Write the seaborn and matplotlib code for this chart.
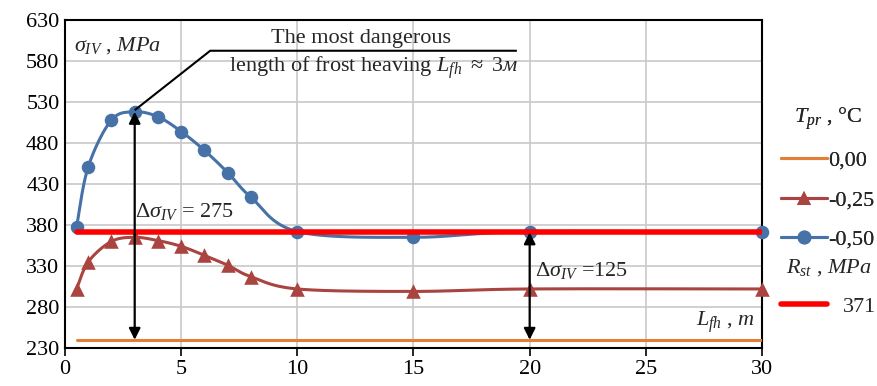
import numpy as np
import pandas as pd
import matplotlib
matplotlib.use("Agg")
import matplotlib.pyplot as plt
import seaborn as sns
from matplotlib.lines import Line2D

# Length of frost heaving section, m
length_m = [0.5, 1, 2, 3, 4, 5, 6, 7, 8, 10, 15, 20, 30]
# Equivalent stress sigma_IV, MPa, for soil temperature T_pr
stress_m025 = [302, 335, 360, 365, 361, 354, 343, 331, 317, 302, 299, 302, 302]
stress_m050 = [378, 451, 508, 518, 512, 494, 471, 444, 414, 372, 365, 372, 371]
# T_pr = 0,00 and the strength limit R_st are constant over the length
flat_len = [0.5, 30]
stress_000 = [240, 240]
r_st = [371, 371]

x_ticks = [0, 5, 10, 15, 20, 25, 30]
y_ticks = [230, 280, 330, 380, 430, 480, 530, 580, 630]

C_ORANGE = "#E07F35"
C_BROWN = "#A94441"
C_BLUE = "#4672A8"
C_RED = "#FF0000"

sns.set_theme(style="whitegrid")
plt.rcParams["font.family"] = ["Liberation Serif", "DejaVu Serif"]
plt.rcParams["mathtext.fontset"] = "custom"
plt.rcParams["mathtext.rm"] = "Liberation Serif"
plt.rcParams["mathtext.it"] = "Liberation Serif:italic"
plt.rcParams["mathtext.bf"] = "Liberation Serif:bold"
FS = 16


def smooth(xs, ys, n=30):
    """Catmull-Rom style smoothing in normalised screen space."""
    xs = np.asarray(xs, float)
    ys = np.asarray(ys, float)
    sx = xs / 30.0 * 697
    sy = ys / 400.0 * 328
    P = np.column_stack([sx, sy])
    P = np.vstack([P[0], P, P[-1]])
    out = []
    for i in range(1, len(P) - 2):
        p0, p1, p2, p3 = P[i - 1], P[i], P[i + 1], P[i + 2]
        c1 = p1 + (p2 - p0) / 6.0
        c2 = p2 - (p3 - p1) / 6.0
        t = np.linspace(0, 1, n)[:, None]
        seg = ((1 - t) ** 3) * p1 + 3 * ((1 - t) ** 2) * t * c1 + 3 * (1 - t) * t ** 2 * c2 + t ** 3 * p2
        out.append(seg if i == 1 else seg[1:])
    S = np.vstack(out)
    return S[:, 0] * 30.0 / 697, S[:, 1] * 400.0 / 328


fig = plt.figure(figsize=(8.78, 3.86), dpi=100)
ax = fig.add_axes([65 / 878, 1 - 348 / 386, 697 / 878, 328 / 386])

df_flat = pd.DataFrame({"L": flat_len, "s0": stress_000, "r": r_st})
df = pd.DataFrame({"L": length_m, "s25": stress_m025, "s50": stress_m050})

# T_pr = 0,00
sns.lineplot(data=df_flat, x="L", y="s0", color=C_ORANGE, lw=2.2, ax=ax, zorder=3)

# T_pr = -0,25 (smoothed line + triangles)
sx, sy = smooth(length_m, stress_m025)
ax.plot(sx, sy, color=C_BROWN, lw=2.2, zorder=3, solid_capstyle="round")
sns.scatterplot(data=df, x="L", y="s25", marker="^", s=110, color=C_BROWN,
                edgecolor=C_BROWN, linewidth=0, ax=ax, zorder=4, clip_on=False)

# T_pr = -0,50 (smoothed line + circles)
sx, sy = smooth(length_m, stress_m050)
ax.plot(sx, sy, color=C_BLUE, lw=2.2, zorder=3, solid_capstyle="round")
sns.scatterplot(data=df, x="L", y="s50", marker="o", s=95, color=C_BLUE,
                edgecolor=C_BLUE, linewidth=0, ax=ax, zorder=4, clip_on=False)

# Strength limit R_st
sns.lineplot(data=df_flat, x="L", y="r", color=C_RED, lw=4, ax=ax, zorder=5)

ax.set_xlim(0, 30)
ax.set_ylim(230, 630)
ax.set_xticks(x_ticks)
ax.set_yticks(y_ticks)
ax.set_xlabel("")
ax.set_ylabel("")
ax.tick_params(axis="both", labelsize=FS, colors="black")
ax.tick_params(axis="x", direction="out", length=6, width=1.2, bottom=True, pad=3)
ax.tick_params(axis="y", length=0, pad=4)
ax.grid(True, color="#C8C8C8", lw=1.2)
for sp in ax.spines.values():
    sp.set_color("black")
    sp.set_linewidth(1.5)
    sp.set_visible(True)

# Difference arrows
peak_i = stress_m050.index(max(stress_m050))
peak_x, peak_y = length_m[peak_i], stress_m050[peak_i]
arrow_kw = dict(arrowstyle="<|-|>", color="black", lw=1.6, mutation_scale=17,
                shrinkA=0, shrinkB=0)
ax.annotate("", xy=(peak_x, peak_y), xytext=(peak_x, stress_000[0]),
            arrowprops=arrow_kw, zorder=7)
ax.annotate("", xy=(20, r_st[0]), xytext=(20, stress_000[0]),
            arrowprops=arrow_kw, zorder=7)
ax.text(3.0, 396, r"$\Delta\sigma_{IV}$ = 275", fontsize=FS, ha="left", va="center", zorder=8)
ax.text(20.25, 324, r"$\Delta\sigma_{IV}$ =125", fontsize=FS, ha="left", va="center", zorder=8)

# Leader to the most dangerous length
ax.plot([peak_x, 6.25, 19.45], [peak_y + 2, 592.5, 592.5], color="black", lw=1.5,
        zorder=7, solid_capstyle="butt")
ax.text(12.75, 608, "The most dangerous", fontsize=FS, ha="center", va="center")
ax.text(13.3, 572, r"length of frost heaving $L_{fh}$ $\approx$ 3$\mathit{м}$",
        fontsize=FS, ha="center", va="center")

ax.text(0.4, 599, r"$\sigma_{IV}$ , $\mathit{MPa}$", fontsize=FS, ha="left", va="center")
ax.text(29.7, 262, r"$L_{fh}$ , $\mathit{m}$", fontsize=FS, ha="right", va="center")

# Legends
h1 = [Line2D([], [], color=C_ORANGE, lw=2.2),
      Line2D([], [], color=C_BROWN, lw=2.2, marker="^", ms=10, mew=0),
      Line2D([], [], color=C_BLUE, lw=2.2, marker="o", ms=10, mew=0)]
leg1 = fig.legend(h1, ["0,00", "-0,25", "-0,50"], loc="upper left",
                  bbox_to_anchor=(781 / 878, 1 - 105 / 386), frameon=False,
                  fontsize=FS, title=r"$T_{pr}$ , °C", title_fontsize=FS,
                  handlelength=2.05, handletextpad=0.05, labelspacing=0.85,
                  borderaxespad=0, borderpad=0)
leg2 = fig.legend([Line2D([], [], color=C_RED, lw=4)], ["371"], loc="upper left",
                  bbox_to_anchor=(781 / 878, 1 - 257 / 386), frameon=False,
                  fontsize=FS, title=r"$R_{st}$ , $\mathit{MPa}$", title_fontsize=FS,
                  handlelength=2.05, handletextpad=0.75, labelspacing=0.5,
                  borderaxespad=0, borderpad=0)
leg2._legend_box.sep = 13
fig.add_artist(leg1)

fig.savefig("out.png", dpi=100)
